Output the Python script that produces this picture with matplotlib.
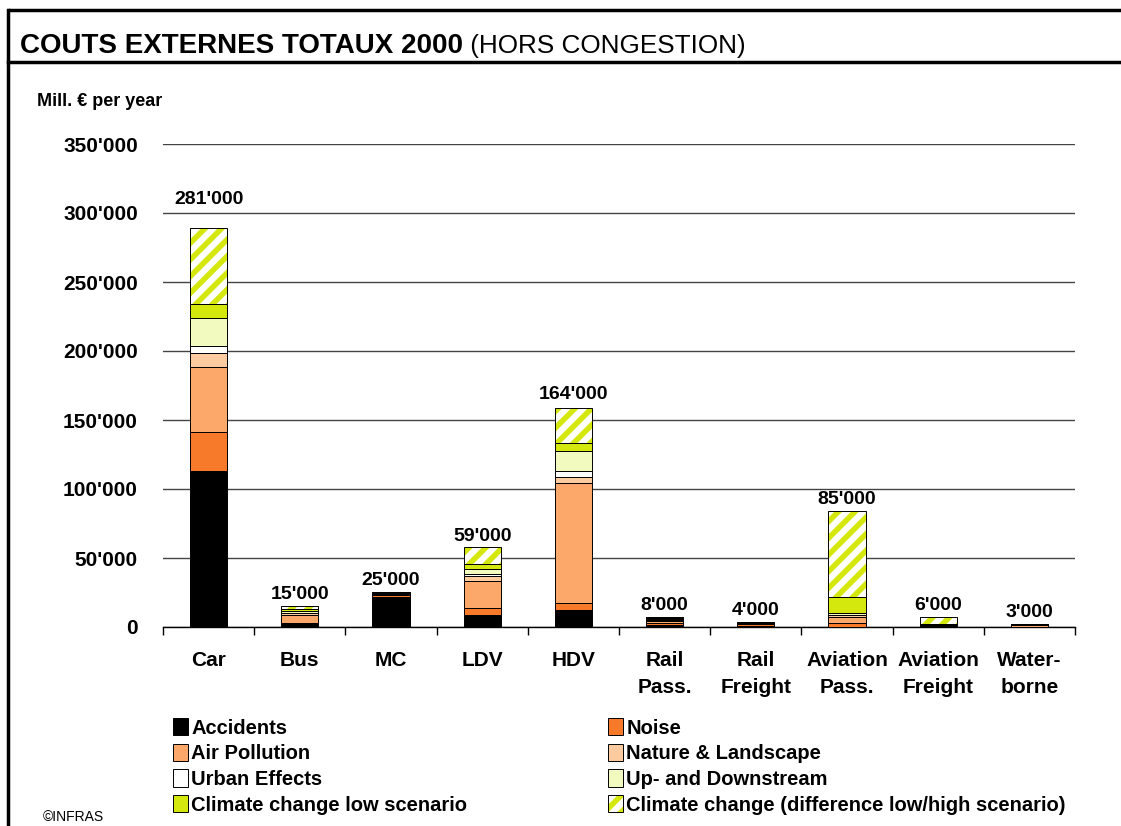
import numpy as np
import matplotlib
matplotlib.use('Agg')
import matplotlib.pyplot as plt
from matplotlib.lines import Line2D
from matplotlib.legend_handler import HandlerTuple
from matplotlib.ticker import FuncFormatter, FixedLocator

plt.rcParams['font.family'] = ['Liberation Sans', 'DejaVu Sans']
plt.rcParams['hatch.linewidth'] = 4.0

# data (Mill. EUR per year)
categories = ['Car', 'Bus', 'MC', 'LDV', 'HDV', 'Rail\nPass.', 'Rail\nFreight',
              'Aviation\nPass.', 'Aviation\nFreight', 'Water-\nborne']
accidents     = [113000, 2000, 22000,  8700, 12300, 1500,  800,   300,  300,  300]
noise         = [ 28000,  700,  1000,  5100,  4800, 1500, 1200,  2800,  300,    0]
air_pollution = [ 47600, 6000,  1000, 19800, 87000, 1500,  800,  4400,  300, 1500]
nature        = [ 10000, 1200,   500,  3400,  4800,  500,  300,  1000,  100,  200]
urban         = [  5300,  500,   500,  1100,  4100,  500,  100,     0,    0,    0]
up_down       = [ 20000, 1500,   600,  4100, 14700, 1000,  400,  2000,  300,  200]
climate_low   = [ 10000, 1000,     0,  3200,  5400,  500,    0, 11500, 1000,    0]
climate_diff  = [ 55500, 2500,     0, 12300, 25400,  500,    0, 62300, 5000,    0]
total_labels = ["281'000", "15'000", "25'000", "59'000", "164'000",
                "8'000", "4'000", "85'000", "6'000", "3'000"]

series = [
    ('Accidents', accidents, '#000000'),
    ('Noise', noise, '#F7792A'),
    ('Air Pollution', air_pollution, '#FCA86A'),
    ('Nature & Landscape', nature, '#FDCBA0'),
    ('Urban Effects', urban, '#FFFFFF'),
    ('Up- and Downstream', up_down, '#F2FAC0'),
    ('Climate change low scenario', climate_low, '#D4E80E'),
]
green = '#D4E80E'

fig = plt.figure(figsize=(11.21, 8.26), dpi=100)
ax = fig.add_axes([163/1121, 1 - 627/826, 912/1121, 483/826])

x = np.arange(len(categories))
w = 0.41
bottom = np.zeros(len(categories))
handles = {}
for name, vals, col in series:
    vals = np.array(vals, dtype=float)
    b = ax.bar(x, vals, w, bottom=bottom, color=col, edgecolor='black',
               linewidth=0.7, zorder=3)
    handles[name] = b
    bottom += vals

diff = np.array(climate_diff, dtype=float)
hb = ax.bar(x, diff, w, bottom=bottom, color='white', edgecolor=green,
            hatch='//', linewidth=0, zorder=3)
ob = ax.bar(x, diff, w, bottom=bottom, fill=False, edgecolor='black',
            linewidth=0.7, zorder=4)
bottom += diff

# total labels
offsets = [14, 2, 2, 2, 4, 2, 2, 2, 2, 2]
for i, lab in enumerate(total_labels):
    ax.annotate(lab, (x[i], bottom[i]), xytext=(0, offsets[i]),
                textcoords='offset points', ha='center', va='bottom',
                fontsize=14, fontweight='bold')

ax.set_xlim(-0.5, len(categories) - 0.5)
ax.set_ylim(0, 350000)
ax.yaxis.set_major_locator(FixedLocator(np.arange(0, 350001, 50000)))
ax.yaxis.set_major_formatter(FuncFormatter(
    lambda v, p: '0' if v == 0 else f"{int(v):,}".replace(',', "'")))
ax.grid(axis='y', color='#444444', linewidth=1.0, zorder=0)
ax.set_axisbelow(True)
for s in ['top', 'right', 'left']:
    ax.spines[s].set_visible(False)
ax.spines['bottom'].set_linewidth(1.0)
ax.tick_params(axis='y', length=0, pad=18, labelsize=15)
for t in ax.get_yticklabels():
    t.set_fontweight('bold')

ax.set_xticks(x)
ax.set_xticklabels(categories, fontsize=15, fontweight='bold', linespacing=1.55)
ax.set_xticks(np.arange(-0.5, len(categories)), minor=True)
ax.tick_params(axis='x', which='major', length=0, pad=17)
ax.tick_params(axis='x', which='minor', length=6, width=1.0, direction='out')

# frame and title
fig.add_artist(Line2D([10/1121, 1], [1 - 10/826, 1 - 10/826], color='black', lw=2.5))
fig.add_artist(Line2D([8/1121, 8/1121], [0, 1 - 10/826], color='black', lw=2.5))
fig.add_artist(Line2D([8/1121, 1], [1 - 62/826, 1 - 62/826], color='black', lw=2.5))
t1 = fig.text(20/1121, 1 - 46/826, 'COUTS EXTERNES TOTAUX 2000', fontsize=20,
              fontweight='bold', va='center', ha='left')
ax.annotate(' (HORS CONGESTION)', xy=(1, 0.5), xycoords=t1, va='center',
            ha='left', fontsize=18.8)
fig.text(37/1121, 1 - 101/826, 'Mill. € per year', fontsize=13, fontweight='bold',
         va='center', ha='left')
fig.text(43/1121, 1 - 817/826, '©INFRAS', fontsize=10, va='center', ha='left')

# legend, row-major order in two columns
col1 = ['Accidents', 'Air Pollution', 'Urban Effects', 'Climate change low scenario']
col2 = ['Noise', 'Nature & Landscape', 'Up- and Downstream']
leg_handles = [handles[n] for n in col1] + [handles[n] for n in col2] + [(hb, ob)]
leg_labels = col1 + col2 + ['Climate change (difference low/high scenario)']
leg = fig.legend(leg_handles, leg_labels, ncol=2, loc='upper left',
                 bbox_to_anchor=(163/1121, 1 - 708/826), frameon=False,
                 prop={'size': 14.5, 'weight': 'bold'},
                 handlelength=0.75, handleheight=0.95, handletextpad=0.15,
                 labelspacing=0.3, columnspacing=7.0, borderpad=0,
                 handler_map={tuple: HandlerTuple(ndivide=1)})

fig.savefig('out.png', dpi=100)
